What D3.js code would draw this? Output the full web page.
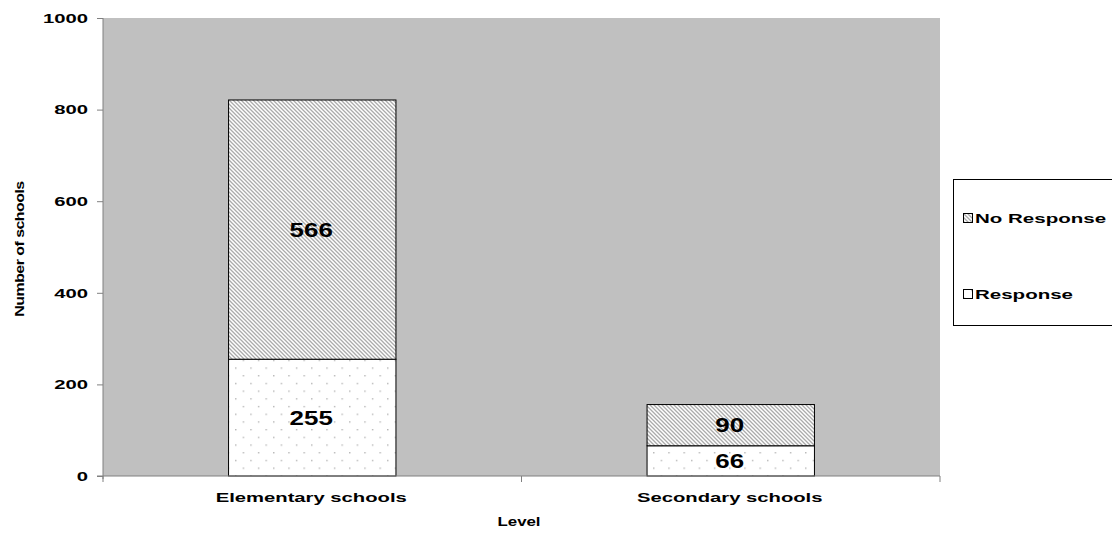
<!DOCTYPE html>
<html>
<head>
<meta charset="utf-8">
<script src="https://cdn.jsdelivr.net/npm/d3@7"></script>
<style>
  html, body { margin: 0; padding: 0; background: #fff; }
  svg { display: block; font-family: "Liberation Sans", Arial, sans-serif; }
</style>
</head>
<body>
<svg id="chart" width="1112" height="533"></svg>
<script>
// School survey responses by level
const categories = ["Elementary schools", "Secondary schools"];
const responseValues = [255, 66];
const noResponseValues = [566, 90];
const seriesNames = ["Response", "No Response"];
const yTicks = [0, 200, 400, 600, 800, 1000];

const svg = d3.select("#chart");
const W = 1112, H = 533;
const margin = { left: 103, right: 172, top: 18, bottom: 57 };
const plotW = W - margin.left - margin.right;
const plotH = H - margin.top - margin.bottom;

// Wide bold lettering: glyphs are stretched along the baseline
const WIDE = 1.5;
function wideText(sel, x, y, sx, rot) {
  sel.attr("x", 0).attr("y", 0)
    .attr("transform", `translate(${x},${y})${rot ? ` rotate(${rot})` : ""} scale(${sx},1)`);
  return sel;
}

// Fill patterns
const defs = svg.append("defs");
const hatch = defs.append("pattern")
  .attr("id", "hatch").attr("patternUnits", "userSpaceOnUse")
  .attr("width", 4).attr("height", 4);
hatch.append("rect").attr("width", 4).attr("height", 4).attr("fill", "#fff");
hatch.append("path").attr("d", "M-1,-1 L5,5 M-1,3 L1,5 M3,-1 L5,1")
  .attr("stroke", "#ababab").attr("stroke-width", 1.3);

const dots = defs.append("pattern")
  .attr("id", "dots").attr("patternUnits", "userSpaceOnUse")
  .attr("width", 15.2).attr("height", 15.4);
dots.append("rect").attr("width", 15.2).attr("height", 15.4).attr("fill", "#fff");
dots.append("rect").attr("x", 3).attr("y", 3).attr("width", 1.2).attr("height", 1.2).attr("fill", "#9a9a9a");
dots.append("rect").attr("x", 10.6).attr("y", 10.7).attr("width", 1.2).attr("height", 1.2).attr("fill", "#9a9a9a");

const g = svg.append("g").attr("transform", `translate(${margin.left},${margin.top})`);

const x = d3.scaleBand().domain(categories).range([0, plotW]).paddingInner(0).paddingOuter(0);
const y = d3.scaleLinear().domain([0, 1000]).range([plotH, 0]);

// Plot background
g.append("rect").attr("width", plotW).attr("height", plotH).attr("fill", "#c0c0c0");

// Stacked bars
const rows = categories.map((c, i) => ({ cat: c, Response: responseValues[i], "No Response": noResponseValues[i] }));
const stack = d3.stack().keys(seriesNames)(rows);
const fills = { "Response": "url(#dots)", "No Response": "url(#hatch)" };
const barW = x.bandwidth() * 0.4;

stack.forEach(layer => {
  const lg = g.append("g");
  lg.selectAll("rect").data(layer).join("rect")
    .attr("x", d => x(d.data.cat) + (x.bandwidth() - barW) / 2)
    .attr("y", d => y(d[1]))
    .attr("width", barW)
    .attr("height", d => y(d[0]) - y(d[1]))
    .attr("fill", fills[layer.key])
    .attr("stroke", "#000").attr("stroke-width", 1);
  lg.selectAll("text").data(layer).join("text")
    .attr("text-anchor", "middle")
    .attr("dy", "0.36em")
    .attr("font-size", 19.5).attr("font-weight", "bold")
    .text(d => d.data[layer.key])
    .each(function (d) {
      wideText(d3.select(this), x(d.data.cat) + x.bandwidth() / 2 - 1, (y(d[0]) + y(d[1])) / 2, 1.33);
    });
});

// Y axis
const yAxis = g.append("g").call(
  d3.axisLeft(y).tickValues(yTicks).tickFormat(d3.format("d")).tickSize(6).tickPadding(9));
yAxis.select(".domain").attr("stroke", "#808080").attr("d", `M0,${plotH + 3}V0`);
yAxis.selectAll(".tick line").attr("stroke", "#808080");
yAxis.selectAll(".tick text")
  .attr("font-size", 13.5).attr("font-weight", "bold")
  .attr("font-family", "Liberation Sans, Arial, sans-serif").attr("fill", "#000")
  .each(function () {
    const t = d3.select(this);
    wideText(t, -15, 0, WIDE);
  });

// X axis with ticks at category boundaries
const xAxisG = g.append("g").attr("transform", `translate(0,${plotH})`);
xAxisG.append("line").attr("x1", -6).attr("x2", plotW).attr("stroke", "#808080");
xAxisG.selectAll("line.tk").data([0, x.bandwidth(), plotW]).join("line").attr("class", "tk")
  .attr("x1", d => d).attr("x2", d => d).attr("y1", 0).attr("y2", 6).attr("stroke", "#808080");
xAxisG.selectAll("text").data(categories).join("text")
  .attr("text-anchor", "middle")
  .attr("font-size", 13.5).attr("font-weight", "bold")
  .text(d => d)
  .each(function (d) { wideText(d3.select(this), x(d) + x.bandwidth() / 2 - 1, 26, WIDE); });

// Axis titles
wideText(svg.append("text")
  .attr("text-anchor", "middle").attr("font-size", 12.5).attr("font-weight", "bold").text("Level"),
  519, 526, 1.35);
wideText(svg.append("text")
  .attr("text-anchor", "middle").attr("font-size", 12).attr("font-weight", "bold")
  .attr("letter-spacing", -0.4).text("Number of schools"),
  24, 249, 1.33, -90);

// Legend
const legend = svg.append("g").attr("transform", "translate(953,179)");
legend.append("rect").attr("x", 0.5).attr("y", 0.5).attr("width", 180).attr("height", 146)
  .attr("fill", "#fff").attr("stroke", "#000").attr("stroke-width", 1);
const legendItems = ["No Response", "Response"];
legendItems.forEach((k, i) => {
  const ly = 39 + i * 76;
  legend.append("rect").attr("x", 10.5).attr("y", ly - 4.5).attr("width", 9).attr("height", 9)
    .attr("fill", fills[k]).attr("stroke", "#000").attr("stroke-width", 1);
  wideText(legend.append("text").attr("dy", "0.36em")
    .attr("font-size", 13.5).attr("font-weight", "bold").text(k), 22, ly, 1.52);
});
</script>
</body>
</html>
